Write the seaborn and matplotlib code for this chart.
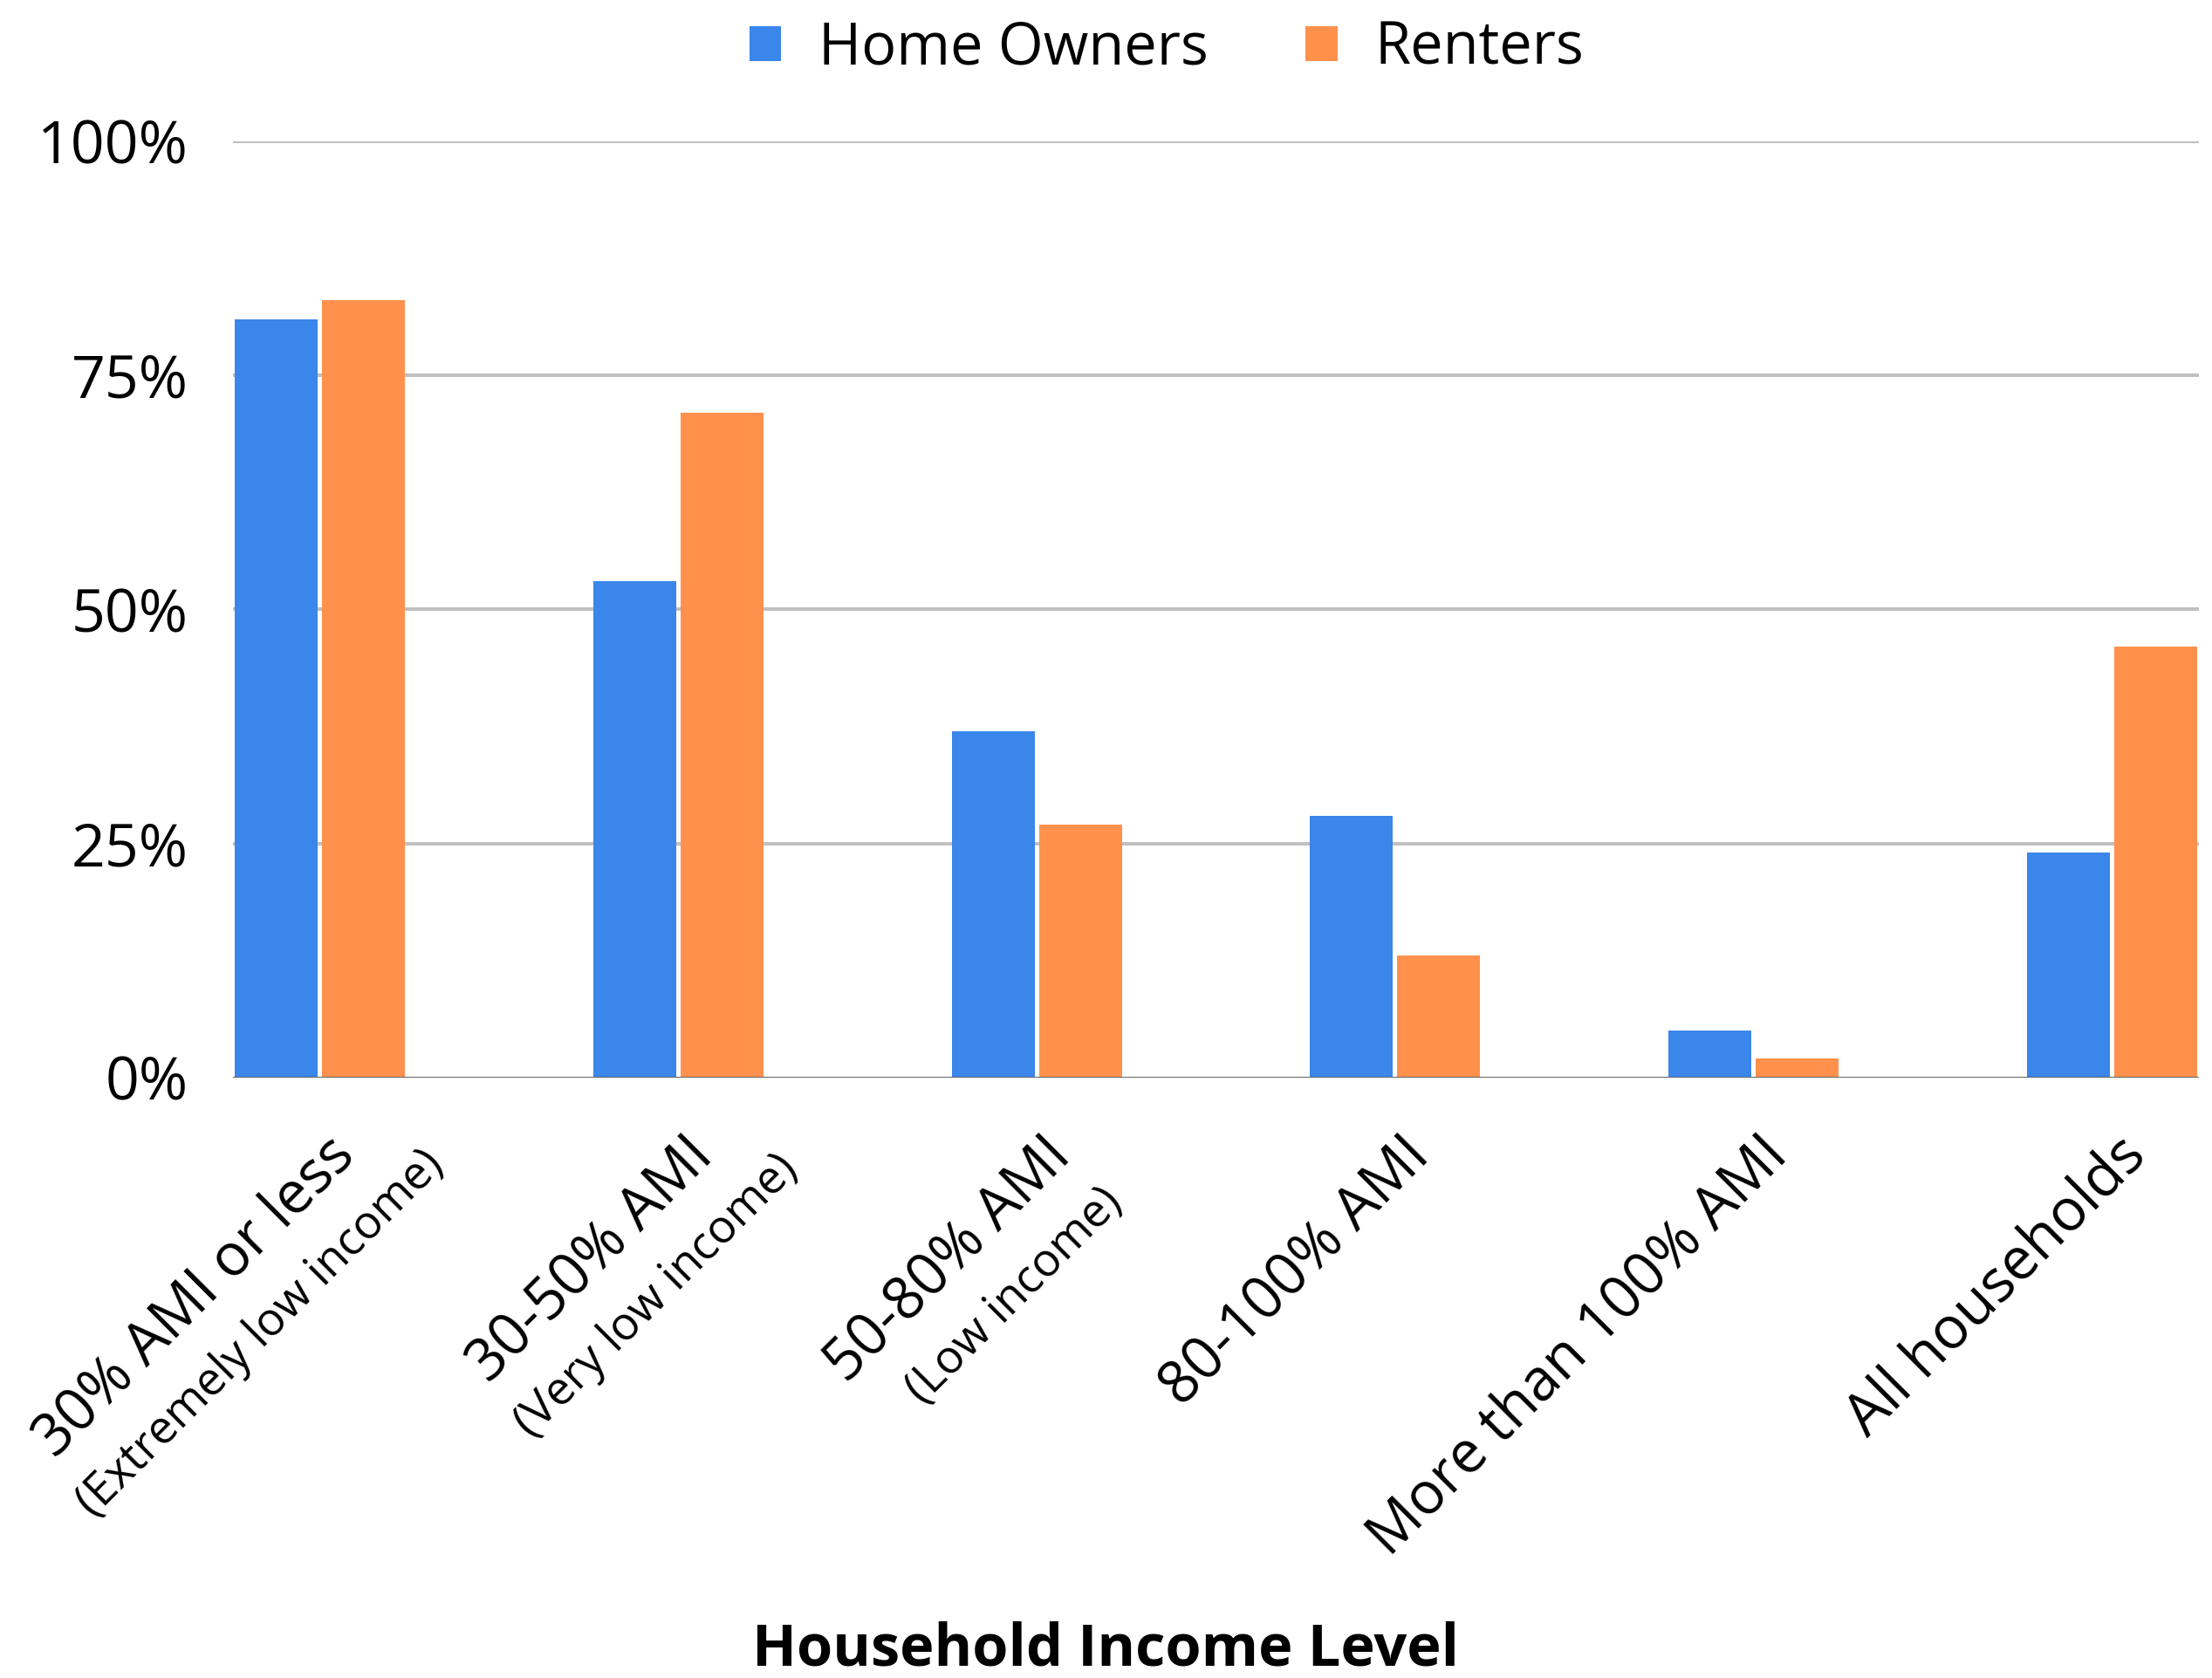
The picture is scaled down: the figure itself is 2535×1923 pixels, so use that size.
import numpy as np
import pandas as pd
import seaborn as sns
import matplotlib
import matplotlib.pyplot as plt
from matplotlib.patches import Patch
from matplotlib.font_manager import FontProperties

matplotlib.use("Agg")

LEVELS = [
    "30% AMI or less",
    "30-50% AMI",
    "50-80% AMI",
    "80-100% AMI",
    "More than 100% AMI",
    "All households",
]
SUBLABELS = ["(Extremely low income)", "(Very low income)", "(Low income)", "", "", ""]
SERIES = ["Home Owners", "Renters"]
OWNERS = [81, 53, 37, 28, 5, 24]
RENTERS = [83, 71, 27, 13, 2, 46]
Y_TICKS = [0, 25, 50, 75, 100]
Y_LABELS = ["0%", "25%", "50%", "75%", "100%"]

BLUE = "#3A86EB"
ORANGE = "#FF914D"
FONT = "Open Sans"

df = pd.DataFrame(
    {
        "Level": LEVELS * 2,
        "Tenure": [SERIES[0]] * len(LEVELS) + [SERIES[1]] * len(LEVELS),
        "Pct": OWNERS + RENTERS,
    }
)

sns.set_style("white")
plt.rcParams["font.family"] = [FONT, "DejaVu Sans"]
plt.rcParams["text.color"] = "black"
plt.rcParams["xtick.color"] = "black"
plt.rcParams["ytick.color"] = "black"

fig = plt.figure(figsize=(25.35, 19.23), dpi=100)
ax = fig.add_axes([0.1053, 0.3578, 0.8888, 0.558])

sns.barplot(
    data=df,
    x="Level",
    y="Pct",
    hue="Tenure",
    order=LEVELS,
    hue_order=SERIES,
    palette=[BLUE, ORANGE],
    saturation=1,
    width=0.487,
    gap=0.05,
    linewidth=0,
    legend=False,
    errorbar=None,
    ax=ax,
    zorder=3,
)

ax.set_xlim(-0.2435, len(LEVELS) - 1 + 0.2435)
ax.set_ylim(0, 100)
ax.set_yticks(Y_TICKS)
ax.set_yticklabels(Y_LABELS, fontsize=49, color="black")
ax.tick_params(axis="y", length=0, pad=37)
ax.set_xticks(range(len(LEVELS)))
ax.set_xticklabels([])
ax.tick_params(axis="x", length=0)
ax.set_xlabel("")
ax.set_ylabel("")
for s in ax.spines.values():
    s.set_visible(False)
for t in Y_TICKS[1:]:
    ax.axhline(t, color="#C0C0C0", lw=2.9, zorder=1)
ax.axhline(0, color="#666666", lw=2.2, zorder=4)

# rotated two-line category labels
renderer = fig.canvas.get_renderer()
fp_main = FontProperties(family=FONT, size=48)
c45 = np.cos(np.pi / 4)
trans = ax.get_xaxis_transform()
for i, (main, sub) in enumerate(zip(LEVELS, SUBLABELS)):
    bx, by = 42, -92  # baseline-right of first line, pixels from tick
    ax.annotate(main, xy=(i, 0), xycoords=trans, xytext=(bx, by),
                textcoords="offset pixels", rotation=45, rotation_mode="anchor",
                ha="right", va="baseline", fontsize=48, color="black",
                annotation_clip=False)
    if sub:
        w1, _, _ = renderer.get_text_width_height_descent(main, fp_main, ismath=False)
        cx = bx - w1 / 2 * c45
        cy = by - w1 / 2 * c45
        cx += 24 * c45 + 78 * c45
        cy += 24 * c45 - 78 * c45
        ax.annotate(sub, xy=(i, 0), xycoords=trans, xytext=(cx, cy),
                    textcoords="offset pixels", rotation=45, rotation_mode="anchor",
                    ha="center", va="baseline", fontsize=38, color="black",
                    annotation_clip=False)

fig.text(0.5, 1 - 1891 / 1923, "Household Income Level", ha="center", va="center",
         fontsize=48, fontweight="bold", color="black")

handles = [Patch(facecolor=BLUE, edgecolor="none"), Patch(facecolor=ORANGE, edgecolor="none")]
fig.legend(handles, SERIES, loc="center", bbox_to_anchor=(0.5274, 0.971), ncol=2,
           frameon=False, fontsize=48, handlelength=0.55, handleheight=0.55,
           handletextpad=0.64, columnspacing=1.67, labelcolor="black")

fig.savefig("out.png", dpi=100)
